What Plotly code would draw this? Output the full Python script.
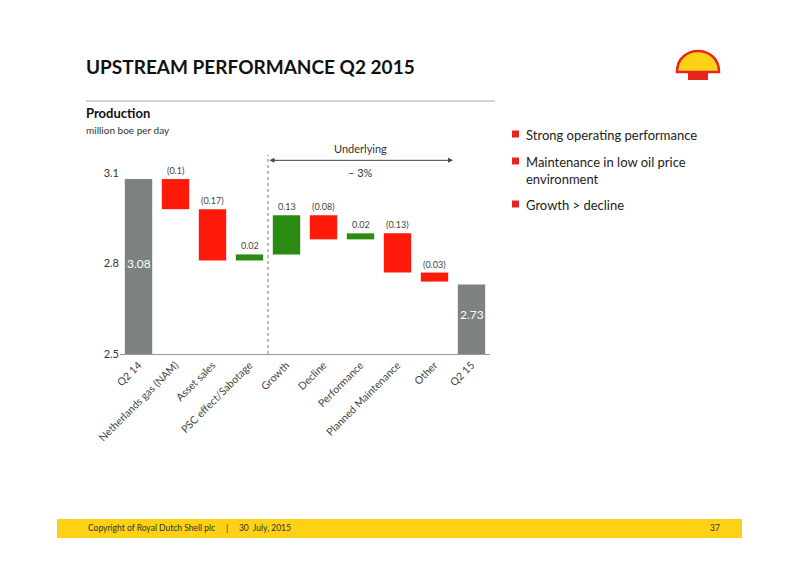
import plotly.graph_objects as go

categories = ["Q2 14", "Netherlands gas (NAM)", "Asset sales", "PSC effect/Sabotage",
              "Growth", "Decline", "Performance", "Planned Maintenance", "Other", "Q2 15"]
values = [3.08, -0.10, -0.17, 0.02, 0.13, -0.08, 0.02, -0.13, -0.03, 2.73]
measures = ["absolute"] + ["relative"] * 8 + ["absolute"]
labels = ["3.08", "(0.1)", "(0.17)", "0.02", "0.13", "(0.08)", "0.02", "(0.13)", "(0.03)", "2.73"]
bullets = ["Strong operating performance", "Maintenance in low oil price<br>environment", "Growth > decline"]

FONT = "Lato"
OFF = 8  # page offset of the figure
L, R, T, B = 120, 490, 173, 354  # plot area in window pixels

fig = go.Figure(go.Waterfall(
    x=categories, y=values, measure=measures,
    increasing=dict(marker=dict(color="#2b8a12")),
    decreasing=dict(marker=dict(color="#ff1a0a")),
    totals=dict(marker=dict(color="#7d8280")),
    connector=dict(visible=False), width=0.74,
))

# total labels inside grey bars
fig.add_annotation(x=categories[0], y=2.8, text=labels[0], showarrow=False,
                   font=dict(size=12, color="white", family=FONT))
fig.add_annotation(x=categories[-1], y=2.63, text=labels[-1], showarrow=False,
                   font=dict(size=12, color="white", family=FONT))

# delta labels above each floating bar
level = values[0]
for i in range(1, 9):
    top = max(level, level + values[i])
    level += values[i]
    fig.add_annotation(x=categories[i], y=top, text=labels[i], showarrow=False,
                       yanchor="bottom", yshift=1, font=dict(size=9, color="#444", family=FONT))

fig.update_yaxes(range=[2.5, 3.1], tickvals=[2.5, 2.8, 3.1], showgrid=False, zeroline=False,
                 tickfont=dict(size=11, color="#333", family=FONT), ticks="", ticklen=0)
fig.update_xaxes(tickangle=-45, showline=True, linecolor="#999", linewidth=1,
                 tickfont=dict(size=10.5, color="#444", family=FONT))

fig.add_shape(type="line", x0=3.5, x1=3.5, y0=0, y1=1.1, xref="x", yref="paper",
              line=dict(color="#777", width=1, dash="dot"))
fig.add_annotation(x=8.5, y=1.07, ax=3.5, ay=0, xref="x", yref="paper", axref="x", ayref="pixel",
                   text="", showarrow=True, arrowhead=2, startarrowhead=2, arrowside="end+start",
                   arrowcolor="#444", arrowwidth=1)
fig.add_annotation(x=6, y=1.09, xref="x", yref="paper", text="Underlying", showarrow=False,
                   yanchor="bottom", font=dict(size=11, color="#333", family=FONT))
fig.add_annotation(x=6, y=1.05, xref="x", yref="paper", text="– 3%", showarrow=False,
                   yanchor="top", font=dict(size=11, color="#333", family=FONT))

def px(x, y):
    return (x - L) / (R - L), (B - y) / (B - T)

def rect(x0, y0, x1, y1, color):
    a0, b0 = px(x0, y1)
    a1, b1 = px(x1, y0)
    fig.add_shape(type="rect", xref="paper", yref="paper", x0=a0, x1=a1, y0=b0, y1=b1,
                  fillcolor=color, line_width=0, layer="below")

paper = dict(xref="paper", yref="paper", showarrow=False, xanchor="left")
x, y = px(84, 66)
fig.add_annotation(x=x, y=y, text="<b>UPSTREAM PERFORMANCE Q2 2015</b>", yanchor="middle",
                   font=dict(size=19, color="#111", family=FONT), **paper)
x, y = px(84, 113)
fig.add_annotation(x=x, y=y, text="<b>Production</b>", yanchor="middle",
                   font=dict(size=13, color="#111", family=FONT), **paper)
x, y = px(84, 130)
fig.add_annotation(x=x, y=y, text="million boe per day", yanchor="middle",
                   font=dict(size=10, color="#333", family=FONT), **paper)
a0, b0 = px(86, 101)
a1, _ = px(495, 101)
fig.add_shape(type="line", xref="paper", yref="paper", x0=a0, x1=a1, y0=b0, y1=b0,
              line=dict(color="#aaa", width=1))

for b, yy in zip(bullets, [134, 161, 204]):
    x, y = px(524, yy)
    fig.add_annotation(x=x, y=y, text=b, yanchor="top", yshift=9, align="left",
                       font=dict(size=13, color="#222", family=FONT), **paper)
    rect(512, yy - 3.5, 519, yy + 3.5, "#e8251f")

# footer band
rect(57, 519, 742, 538, "#fcd116")
x, y = px(86, 528)
fig.add_annotation(x=x, y=y, text="Copyright of Royal Dutch Shell plc     |     30  July, 2015",
                   yanchor="middle", font=dict(size=8.5, color="#333", family=FONT), **paper)
x, y = px(722, 528)
fig.add_annotation(x=x, y=y, text="37", yanchor="middle", xanchor="right", xref="paper", yref="paper",
                   showarrow=False, font=dict(size=8.5, color="#333", family=FONT))

# simple shell emblem
a0, b0 = px(677, 72)
a1, _ = px(719, 72)
am, bm = px(698, 44)
_, bc = px(698, 44)
fig.add_shape(type="path", xref="paper", yref="paper",
              path=f"M {a0} {b0} C {a0} {bc} {a1} {bc} {a1} {b0} Z",
              fillcolor="#fcd116", line=dict(color="#e8251f", width=2.5))
rect(688, 70, 708, 80, "#e8251f")

fig.update_layout(width=800, height=566,
                  margin=dict(l=L - OFF, r=800 - R + OFF, t=T - OFF, b=566 - B + OFF),
                  plot_bgcolor="rgba(0,0,0,0)", paper_bgcolor="white", showlegend=False)
fig.write_html("out.html")
